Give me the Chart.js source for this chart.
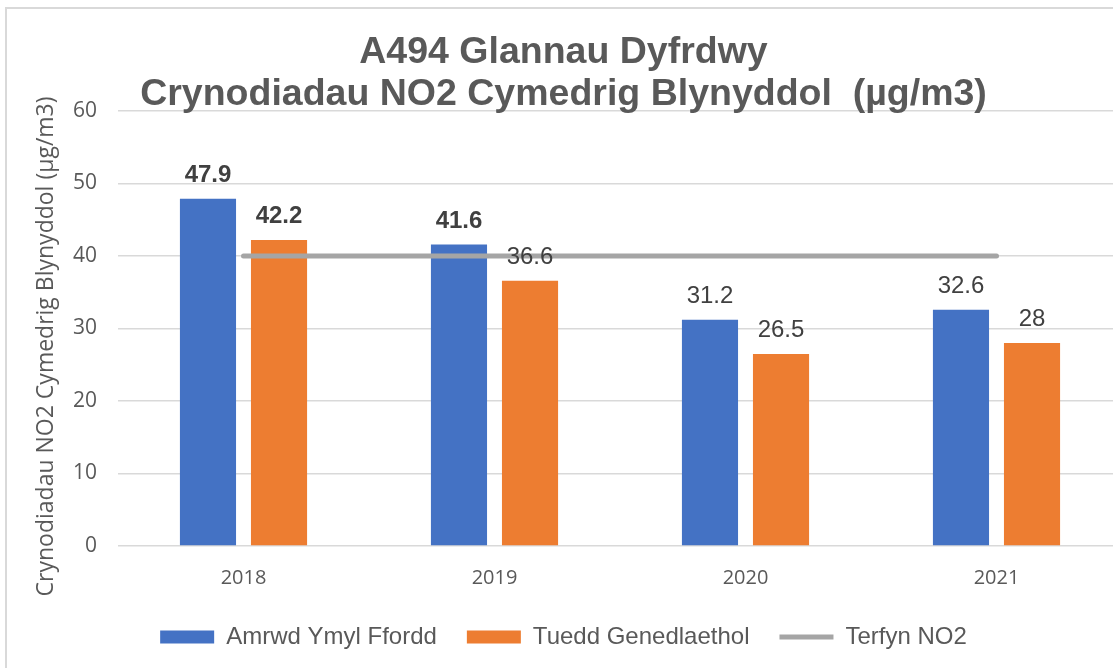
<!DOCTYPE html>
<html>
<head>
<meta charset="utf-8">
<script src="https://cdn.jsdelivr.net/npm/chart.js@4"></script>
<style>
    html, body { margin: 0; padding: 0; background: #fff; overflow: hidden; }
    #wrap { position: relative; width: 1124px; height: 668px; }
    #frame { position: absolute; left: 5px; top: 7px; width: 1200px; height: 700px;
             border-left: 2px solid #d9d9d9; border-top: 2px solid #d9d9d9; box-sizing: border-box; }
    canvas { position: absolute; left: 0; top: 0; }
</style>
</head>
<body>
<div id="wrap">
    <div id="frame"></div>
    <canvas id="no2Chart" width="1124" height="668"></canvas>
</div>
<script>
// Chart data
const years = ['2018', '2019', '2020', '2021'];
const roadside = [47.9, 41.6, 31.2, 32.6];
const nationalTrend = [42.2, 36.6, 26.5, 28];
const no2Limit = [40, 40, 40, 40];
const yTicks = [0, 10, 20, 30, 40, 50, 60];

const textGrey = '#595959';

// Draws the value above each bar (Chart.js has no built-in data labels)
const barValueLabels = {
    id: 'barValueLabels',
    afterDatasetsDraw(chart, args, opts) {
        const ctx = chart.ctx;
        ctx.save();
        ctx.fillStyle = opts.color;
        ctx.textAlign = 'center';
        ctx.textBaseline = 'bottom';
        chart.data.datasets.forEach((ds, di) => {
            if (ds.type === 'line') return;
            const meta = chart.getDatasetMeta(di);
            meta.data.forEach((bar, i) => {
                const bold = opts.bold[di] && opts.bold[di][i];
                ctx.font = (bold ? 'bold ' : '') + opts.size + 'px "Liberation Sans", Arial, sans-serif';
                ctx.fillText(String(ds.data[i]), bar.x, bar.y - opts.offset);
            });
        });
        ctx.restore();
    }
};

const ctx = document.getElementById('no2Chart').getContext('2d');
const no2Chart = new Chart(ctx, {
    type: 'bar',
    data: {
        labels: years,
        datasets: [
            {
                label: 'Amrwd Ymyl Ffordd',
                data: roadside,
                backgroundColor: '#4472C4',
                pointStyle: 'rect',
                categoryPercentage: 0.566,
                barPercentage: 0.79
            },
            {
                label: 'Tuedd Genedlaethol',
                data: nationalTrend,
                backgroundColor: '#ED7D31',
                pointStyle: 'rect',
                categoryPercentage: 0.566,
                barPercentage: 0.79
            },
            {
                type: 'line',
                label: 'Terfyn NO2',
                data: no2Limit,
                borderColor: '#A5A5A5',
                backgroundColor: '#A5A5A5',
                borderWidth: 5,
                borderCapStyle: 'round',
                pointRadius: 0,
                pointStyle: 'line',
                order: -1
            }
        ]
    },
    options: {
        responsive: false,
        animation: false,
        layout: { padding: { top: 10, left: 5, right: 2, bottom: 9 } },
        scales: {
            x: {
                grid: { display: false, drawTicks: false },
                border: { display: false },
                afterFit: axis => { axis.height -= 15; },
                ticks: {
                    color: textGrey,
                    padding: 20,
                    font: { family: '"Open Sans", sans-serif', size: 20 }
                }
            },
            y: {
                min: 0,
                max: 60,
                afterBuildTicks: axis => { axis.ticks = yTicks.map(v => ({ value: v })); },
                afterFit: axis => { axis.width = 113; },
                grid: { color: '#d9d9d9', lineWidth: 1.5, drawTicks: false },
                border: { display: false },
                ticks: {
                    color: textGrey,
                    padding: 21,
                    font: { family: '"Open Sans", sans-serif', size: 21 }
                },
                title: {
                    display: true,
                    text: 'Crynodiadau NO2 Cymedrig Blynyddol (µg/m3)\u00a0\u00a0\u00a0\u00a0\u00a0\u00a0',
                    color: textGrey,
                    padding: { top: 28, bottom: 0 },
                    font: { family: '"Open Sans", sans-serif', size: 23, weight: 'normal' }
                }
            }
        },
        plugins: {
            title: {
                display: true,
                text: ['A494 Glannau Dyfrdwy', 'Crynodiadau NO2 Cymedrig Blynyddol  (µg/m3)'],
                color: textGrey,
                padding: { top: 22, bottom: -5 },
                font: { family: '"Liberation Sans", Arial, sans-serif', size: 37.5, weight: 'bold', lineHeight: 1.12 }
            },
            legend: {
                position: 'bottom',
                labels: {
                    usePointStyle: true,
                    pointStyleWidth: 54,
                    boxHeight: 13,
                    color: textGrey,
                    padding: 30,
                    font: { family: '"Liberation Sans", Arial, sans-serif', size: 24 },
                    sort: (a, b) => a.datasetIndex - b.datasetIndex
                }
            },
            tooltip: { enabled: false },
            barValueLabels: {
                color: '#404040',
                size: 24,
                offset: 11.5,
                bold: [[true, true, false, false], [true, false, false, false]]
            }
        }
    },
    plugins: [barValueLabels]
});
</script>
</body>
</html>
